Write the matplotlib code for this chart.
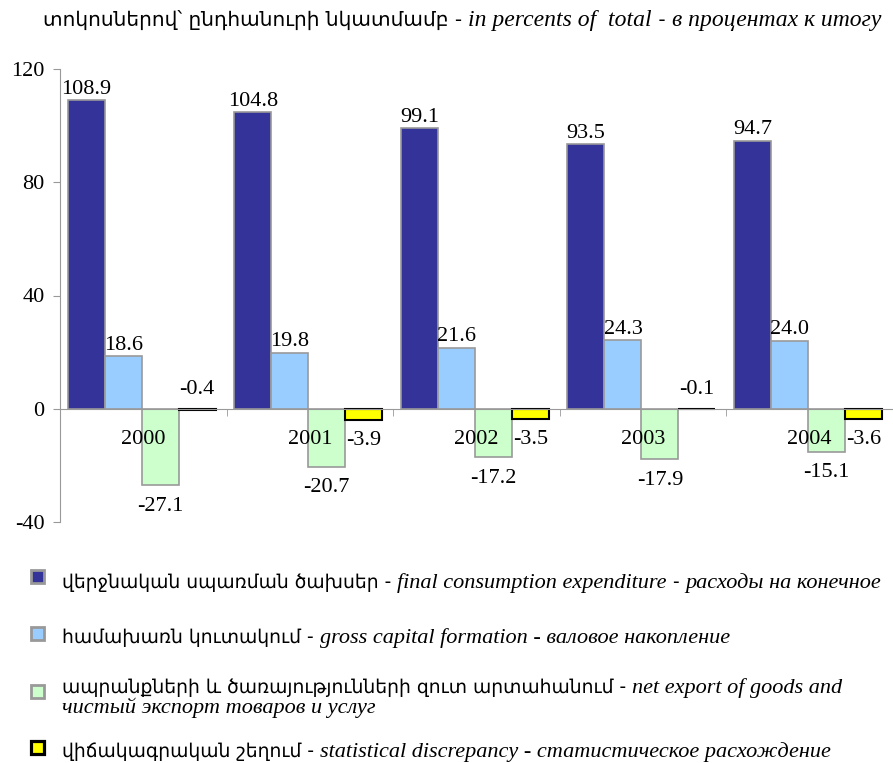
import numpy as np
import matplotlib.pyplot as plt
from matplotlib.patches import Rectangle

plt.rcParams["axes.unicode_minus"] = False

years = ["2000", "2001", "2002", "2003", "2004"]
final_consumption = [108.9, 104.8, 99.1, 93.5, 94.7]
gross_capital = [18.6, 19.8, 21.6, 24.3, 24.0]
net_export = [-27.1, -20.7, -17.2, -17.9, -15.1]
discrepancy = [-0.4, -3.9, -3.5, -0.1, -3.6]

series = [final_consumption, gross_capital, net_export, discrepancy]
fills = ["#333399", "#99CCFF", "#CCFFCC", "#FFFF00"]
edges = ["#999999", "#999999", "#999999", "#000000"]
edge_w = [1.2, 1.2, 1.2, 1.5]

title_parts = [
    ("տոկոսներով՝ ընդհանուրի նկատմամբ - ", "normal"),
    ("in percents of  total", "italic"),
    (" - ", "normal"),
    ("в процентах к итогу", "italic"),
]

# legend text as far as it is visible in the source picture
legend_lines = [
    [[("վերջնական սպառման ծախսեր - ", "normal"),
      ("final consumption expenditure", "italic"),
      (" - ", "normal"),
      ("расходы на конечное", "italic")]],
    [[("համախառն կուտակում - ", "normal"),
      ("gross capital formation - валовое накопление", "italic")]],
    [[("ապրանքների և ծառայությունների զուտ արտահանում - ", "normal"),
      ("net export of goods and", "italic")],
     [("чистый экспорт товаров и услуг", "italic")]],
    [[("վիճակագրական շեղում - ", "normal"),
      ("statistical discrepancy - статистическое расхождение", "italic")]],
]

SERIF = ["Liberation Serif", "DejaVu Serif"]
ARM = ["DejaVu Sans", "Liberation Serif"]
NUM_SIZE = 16

W, H = 893, 763
fig = plt.figure(figsize=(W / 100, H / 100), dpi=100)
renderer = fig.canvas.get_renderer()

# axes: left spine at x=60px, y=120 at 69px, y=-40 at 522px
ax = fig.add_axes([60 / W, 1 - 522 / H, (W - 60) / W, (522 - 69) / H])
ax.set_ylim(-40, 120)
ax.set_xlim(-0.5, -0.5 + (W - 60) / 169)
ax.set_axisbelow(False)

x = np.arange(len(years))
width = 0.222
for i, vals in enumerate(series):
    pos = x + (i - 1.5) * width - 0.01
    ax.bar(pos, vals, width, color=fills[i], edgecolor=edges[i],
           linewidth=edge_w[i], zorder=1)
    for xp, v in zip(pos, vals):
        if v >= 0:
            ax.annotate(f"{v:.1f}", (xp, v), xytext=(0, 1),
                        textcoords="offset points", ha="center", va="bottom",
                        fontsize=NUM_SIZE, family=SERIF, zorder=4)
        elif abs(v) < 1:
            ax.annotate(f"{v:.1f}", (xp, 0), xytext=(0, 7),
                        textcoords="offset points", ha="center", va="bottom",
                        fontsize=NUM_SIZE, family=SERIF, zorder=4)
        else:
            ax.annotate(f"{v:.1f}", (xp, v), xytext=(0, -8),
                        textcoords="offset points", ha="center", va="top",
                        fontsize=NUM_SIZE, family=SERIF, zorder=4)

for s in ["top", "right"]:
    ax.spines[s].set_visible(False)
ax.spines["left"].set_color("#999999")
ax.spines["bottom"].set_position(("data", 0))
ax.spines["bottom"].set_color("#999999")
ax.spines["bottom"].set_zorder(3)

ax.set_yticks([-40, 0, 40, 80, 120])
ax.tick_params(axis="y", colors="#999999", labelcolor="black", length=5,
               labelsize=NUM_SIZE, pad=6)
for lab in ax.get_yticklabels():
    lab.set_family(SERIF)

ax.set_xticks(x)
ax.set_xticklabels(years, fontsize=NUM_SIZE, family=SERIF)
ax.set_xticks(np.arange(len(years) + 1) - 0.5, minor=True)
ax.tick_params(axis="x", which="major", length=0, pad=15)
ax.tick_params(axis="x", which="minor", length=5, colors="#999999")


def rich_text(x0, baseline, parts, sizes):
    xp = x0
    for (txt, style) in parts:
        fam = ARM if style == "normal" else SERIF
        size = sizes[0] if style == "normal" else sizes[1]
        t = fig.text(xp / W, 1 - baseline / H, txt, fontsize=size, style=style,
                     family=fam, ha="left", va="baseline")
        xp += t.get_window_extent(renderer).width


rich_text(43, 26, title_parts, (14.5, 17))

square_y = [576, 633, 691, 747]
text_base = [[588, None], [643, None], [693, 713], [757, None]]
for rows, yc, base, fc, ec, lw in zip(legend_lines, square_y, text_base,
                                      fills, edges, edge_w):
    fig.patches.append(Rectangle((31 / W, 1 - (yc + 6.5) / H), 13 / W, 13 / H,
                                 transform=fig.transFigure, facecolor=fc,
                                 edgecolor=ec, linewidth=lw + 0.8))
    for k, parts in enumerate(rows):
        rich_text(62, base[k], parts, (13.5, 16))

fig.savefig("out.png", dpi=100)
